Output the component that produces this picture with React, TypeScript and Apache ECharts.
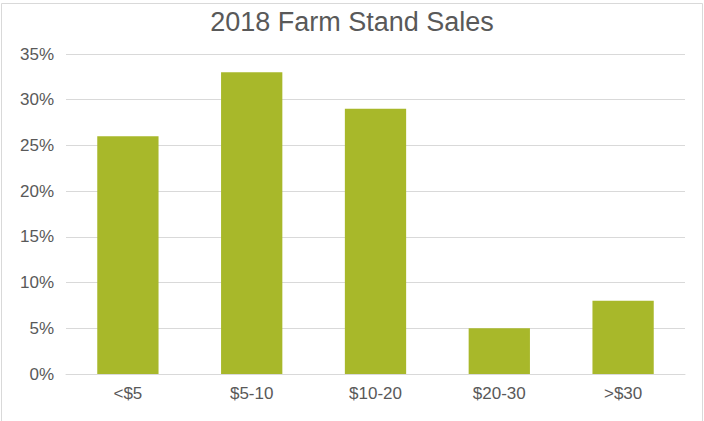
import React, { useEffect, useRef } from "react";
import * as echarts from "echarts";

const categories = ["<$5", "$5-10", "$10-20", "$20-30", ">$30"];
const salesShare = [26, 33, 29, 5, 8];
const yTicks = { min: 0, max: 35, interval: 5 };

export default function App() {
  const ref = useRef<HTMLDivElement>(null);
  useEffect(() => {
    if (!ref.current) return;
    const chart = echarts.init(ref.current, null, { renderer: "svg" });
    const font = "'Liberation Sans', Arial, sans-serif";
    chart.setOption({
      animation: false,
      backgroundColor: "#ffffff",
      title: {
        text: "2018 Farm Stand Sales",
        left: "center",
        top: 3,
        textStyle: { fontFamily: font, fontSize: 27, fontWeight: "normal", color: "#595959" },
      },
      graphic: [
        {
          type: "rect",
          shape: { x: 1.5, y: 3.5, width: 701, height: 430 },
          style: { fill: "none", stroke: "#d9d9d9", lineWidth: 1 },
          silent: true,
        },
      ],
      grid: { left: 66, right: 19, top: 54, bottom: 47, containLabel: false },
      xAxis: {
        type: "category",
        data: categories,
        axisLine: { lineStyle: { color: "#d9d9d9", width: 1 } },
        axisTick: { show: false },
        axisLabel: { fontFamily: font, fontSize: 17, color: "#595959", margin: 11 },
      },
      yAxis: {
        type: "value",
        min: yTicks.min,
        max: yTicks.max,
        interval: yTicks.interval,
        axisLine: { show: false },
        axisTick: { show: false },
        splitLine: { lineStyle: { color: "#d9d9d9", width: 1 } },
        axisLabel: {
          fontFamily: font,
          fontSize: 17,
          color: "#595959",
          margin: 12,
          formatter: (v: number) => `${v}%`,
        },
      },
      series: [
        {
          type: "bar",
          data: salesShare,
          barWidth: "49.5%",
          itemStyle: { color: "#a8b82a" },
        },
      ],
    });
    return () => chart.dispose();
  }, []);
  return (
    <div
      ref={ref}
      style={{ position: "fixed", left: 0, top: 0, width: 704, height: 421 }}
    />
  );
}
